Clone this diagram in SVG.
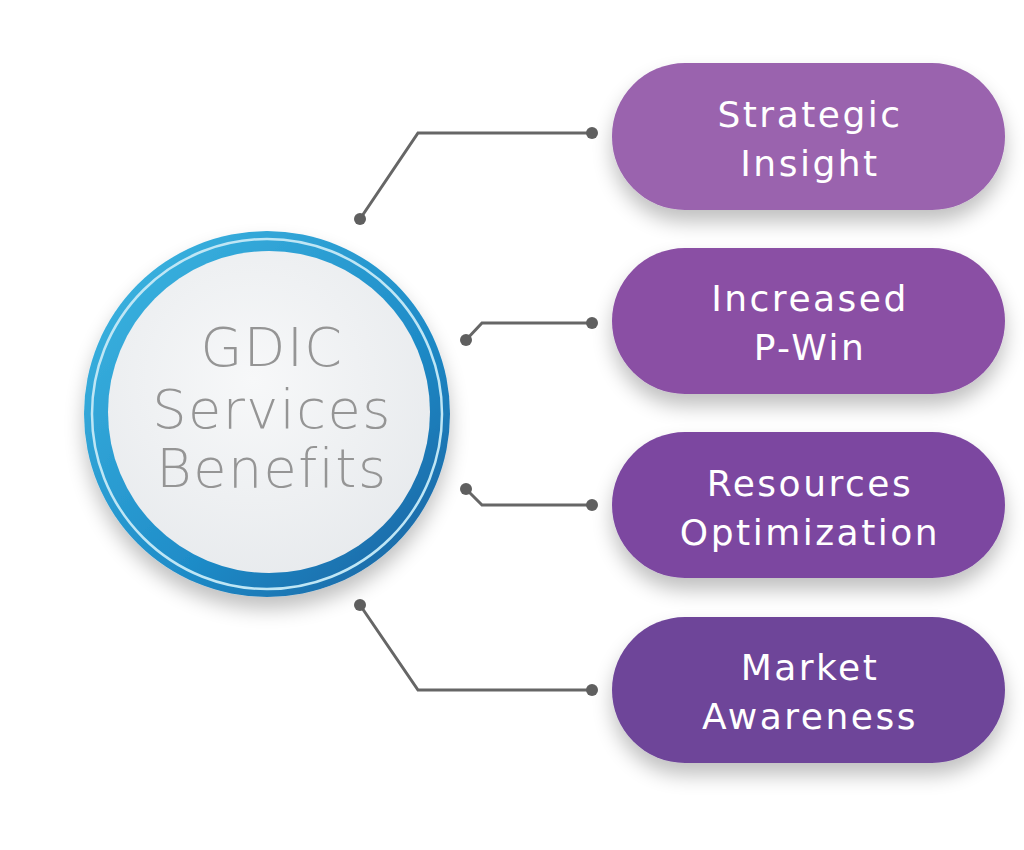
<svg xmlns="http://www.w3.org/2000/svg" width="1024" height="850" viewBox="0 0 1024 850">
<defs>
<style>
.pt{font-family:"DejaVu Sans",sans-serif;font-size:36px;fill:#fff;text-anchor:middle;letter-spacing:2.5px}
.ct{font-family:"DejaVu Sans",sans-serif;font-weight:200;font-size:54px;fill:#959595;text-anchor:middle;letter-spacing:1.5px}
.ln{fill:none;stroke:#666;stroke-width:3}
.dot{fill:#5f5f5f}
</style>
<filter id="sh" x="-30%" y="-30%" width="160%" height="170%"><feGaussianBlur in="SourceAlpha" stdDeviation="10"/><feOffset dx="0" dy="12"/><feComponentTransfer><feFuncA type="linear" slope="0.25"/></feComponentTransfer><feMerge><feMergeNode/><feMergeNode in="SourceGraphic"/></feMerge></filter>
<linearGradient id="ring" x1="0" y1="0" x2="1" y2="1"><stop offset="0" stop-color="#3fb9e3"/><stop offset="0.6" stop-color="#1f8cc8"/><stop offset="1" stop-color="#175d9c"/></linearGradient>
<radialGradient id="disc" cx="0.45" cy="0.4" r="0.7"><stop offset="0" stop-color="#f7f8f9"/><stop offset="1" stop-color="#e6e9ec"/></radialGradient>
</defs>
<rect width="1024" height="850" fill="#fff"/>
<g id="connectors">
<polyline class="ln" points="360,219 418,133 592,133"/>
<polyline class="ln" points="466,340 482,323 592,323"/>
<polyline class="ln" points="466,489 482,505 592,505"/>
<polyline class="ln" points="360,605 418,690 592,690"/>
<circle class="dot" cx="360" cy="219" r="6"/><circle class="dot" cx="592" cy="133" r="6"/>
<circle class="dot" cx="466" cy="340" r="6"/><circle class="dot" cx="592" cy="323" r="6"/>
<circle class="dot" cx="466" cy="489" r="6"/><circle class="dot" cx="592" cy="505" r="6"/>
<circle class="dot" cx="360" cy="605" r="6"/><circle class="dot" cx="592" cy="690" r="6"/>
</g>
<g id="center">
<circle cx="267" cy="414" r="183" fill="url(#ring)" filter="url(#sh)"/>
<circle cx="267" cy="414" r="175" fill="none" stroke="#bfe6f5" stroke-width="2.5"/>
<circle cx="269" cy="412" r="161" fill="url(#disc)"/>
<text class="ct" x="272" y="366">GDIC</text>
<text class="ct" x="272" y="428">Services</text>
<text class="ct" x="272" y="487">Benefits</text>
</g>
<g id="n1"><rect x="612" y="63" width="393" height="147" rx="73" fill="#9a63ae" filter="url(#sh)"/><text class="pt" x="810" y="127">Strategic</text><text class="pt" x="810" y="176">Insight</text></g>
<g id="n2"><rect x="612" y="248" width="393" height="146" rx="73" fill="#8a4fa4" filter="url(#sh)"/><text class="pt" x="810" y="311">Increased</text><text class="pt" x="810" y="360">P-Win</text></g>
<g id="n3"><rect x="612" y="432" width="393" height="146" rx="73" fill="#7b47a0" filter="url(#sh)"/><text class="pt" x="810" y="496">Resources</text><text class="pt" x="810" y="545">Optimization</text></g>
<g id="n4"><rect x="612" y="617" width="393" height="146" rx="73" fill="#6e4599" filter="url(#sh)"/><text class="pt" x="810" y="680">Market</text><text class="pt" x="810" y="729">Awareness</text></g>
</svg>
